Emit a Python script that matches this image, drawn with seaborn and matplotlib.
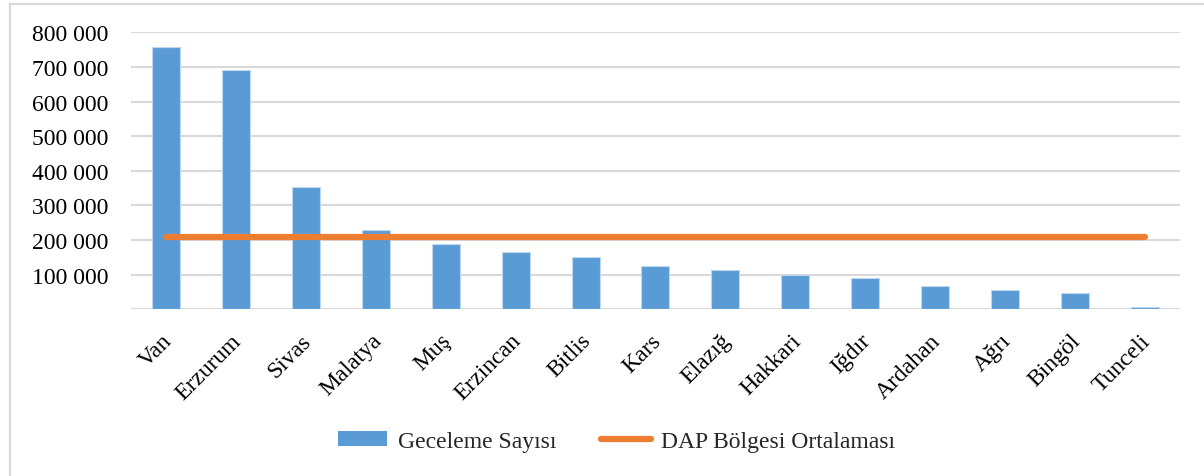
import matplotlib
matplotlib.use("Agg")
import matplotlib.pyplot as plt
import matplotlib.transforms as mtransforms
from matplotlib.lines import Line2D
from matplotlib.patches import Patch
import seaborn as sns
import pandas as pd

# Overnight stays per province and the regional (DAP) average
provinces = ["Van", "Erzurum", "Sivas", "Malatya", "Muş", "Erzincan", "Bitlis",
             "Kars", "Elazığ", "Hakkari", "Iğdır", "Ardahan", "Ağrı", "Bingöl", "Tunceli"]
overnight_stays = [757000, 692000, 353000, 228000, 189000, 166000, 151000,
                   125000, 113000, 99000, 91000, 67000, 57000, 46000, 6000]
dap_average = 209000
y_ticks = [0, 100000, 200000, 300000, 400000, 500000, 600000, 700000, 800000]

bar_label = "Geceleme Sayısı"
line_label = "DAP Bölgesi Ortalaması"

BLUE = "#5B9BD5"
ORANGE = "#ED7D31"
GRID = "#D9D9D9"
FS = 17

sns.set_theme(style="white")
plt.rcParams["font.family"] = ["Liberation Serif", "DejaVu Serif"]

df = pd.DataFrame({"province": provinces, "stays": overnight_stays})

fig = plt.figure(figsize=(12.04, 4.77), dpi=100)
ax = fig.add_axes([0.1088, 0.3495, 0.8712, 0.5805])

sns.barplot(data=df, x="province", y="stays", color=BLUE, saturation=1,
            width=0.4, edgecolor="#BDD7EE", linewidth=0.8, ax=ax, zorder=3)

avg_line = [dap_average] * len(provinces)
ax.plot(range(len(provinces)), avg_line, color=ORANGE, lw=4.5,
        solid_capstyle="round", zorder=4)

ax.set_ylim(0, 800000)
ax.set_xlim(-0.5, len(provinces) - 0.5)
ax.set_yticks(y_ticks)
ax.set_yticklabels(["" if v == 0 else f"{v:,}".replace(",", " ") for v in y_ticks])
for v in y_ticks:
    ax.axhline(v, color=GRID, lw=1.5, zorder=1)

ax.tick_params(axis="y", length=0, pad=16, labelsize=FS, labelcolor="black")
ax.tick_params(axis="x", length=0, pad=9, labelsize=FS, labelcolor="black")
shift = mtransforms.ScaledTranslation(-5 / 100, -8 / 100, fig.dpi_scale_trans)
for lbl in ax.get_xticklabels():
    lbl.set_rotation(45)
    lbl.set_ha("right")
    lbl.set_va("top")
    lbl.set_rotation_mode("anchor")
    lbl.set_transform(lbl.get_transform() + shift)

ax.set_xlabel("")
ax.set_ylabel("")
for s in ax.spines.values():
    s.set_visible(False)

handles = [Patch(facecolor=BLUE, edgecolor="none", label=bar_label),
           Line2D([0], [0], color=ORANGE, lw=4.5, label=line_label)]
fig.legend(handles=handles, loc="center", bbox_to_anchor=(0.512, 0.073), ncol=2,
           frameon=False, fontsize=FS, handlelength=2.1, handleheight=0.6,
           columnspacing=1.9, handletextpad=0.45)

# Outer chart frame (left and top edges)
fig.add_artist(Line2D([9.5 / 1204, 9.5 / 1204], [0, 1 - 4.5 / 477],
                      transform=fig.transFigure, color=GRID, lw=1.6))
fig.add_artist(Line2D([9.5 / 1204, 1], [1 - 4.5 / 477, 1 - 4.5 / 477],
                      transform=fig.transFigure, color=GRID, lw=1.6))

fig.savefig("out.png", dpi=100)
